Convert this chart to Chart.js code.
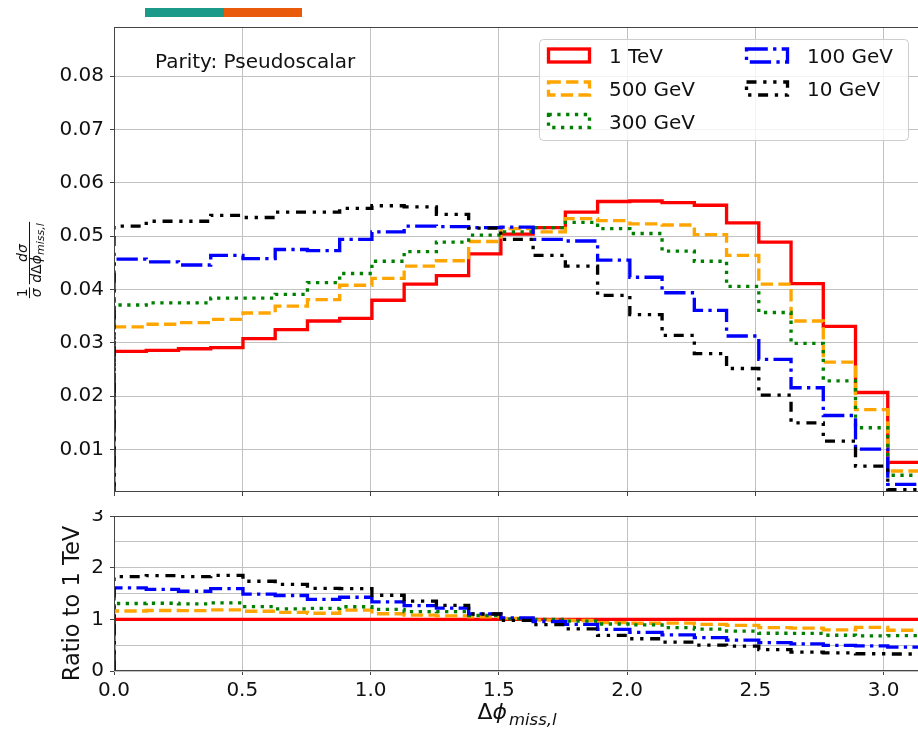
<!DOCTYPE html>
<html>
<head>
<meta charset="utf-8">
<script src="https://cdn.jsdelivr.net/npm/chart.js@4.4.1/dist/chart.umd.min.js"></script>
<style>
html, body { margin: 0; padding: 0; overflow: hidden; background: #fff; }
#wrap { position: relative; width: 918px; height: 734px; overflow: hidden; }
#wrap canvas { position: absolute; left: 0; }
#topChart { top: 0; }
#ratioChart { top: 510px; }
.band { position: absolute; top: 8px; height: 9px; z-index: 2; }
</style>
</head>
<body>
<div id="wrap">
    <canvas id="topChart" width="922" height="497"></canvas>
    <canvas id="ratioChart" width="922" height="224"></canvas>
    <div class="band" style="left:145px;width:79px;background:#1b9a8a"></div>
    <div class="band" style="left:224px;width:78px;background:#ea5a0b"></div>
</div>
<script>
// 25 equal bins of delta phi between 0 and pi
var N_BINS = 25;
var X_MAX = Math.PI;
var X_TICKS = [0, 0.5, 1.0, 1.5, 2.0, 2.5, 3.0];
var Y_TICKS = [0.01, 0.02, 0.03, 0.04, 0.05, 0.06, 0.07, 0.08];
var RATIO_TICKS = [0, 0.5, 1, 1.5, 2, 2.5, 3];

var LABELS = ['1 TeV', '500 GeV', '300 GeV', '100 GeV', '10 GeV'];

// normalised bin contents, one value per bin
var dist1TeV = [0.0284, 0.0286, 0.0289, 0.0291, 0.0308, 0.0325, 0.0341, 0.0346, 0.0380, 0.0410,
    0.0426, 0.0467, 0.0504, 0.0516, 0.0545, 0.0565, 0.0566, 0.0563, 0.0558, 0.0525,
    0.0489, 0.0411, 0.0331, 0.0207, 0.0076];
var dist500GeV = [0.0330, 0.0335, 0.0338, 0.0344, 0.0356, 0.0369, 0.0381, 0.0408, 0.0421, 0.0444,
    0.0454, 0.0490, 0.0514, 0.0508, 0.0533, 0.0529, 0.0523, 0.0521, 0.0503, 0.0464,
    0.0410, 0.0341, 0.0264, 0.0175, 0.0060];
var dist300GeV = [0.0371, 0.0375, 0.0375, 0.0384, 0.0384, 0.0391, 0.0413, 0.0430, 0.0453, 0.0471,
    0.0489, 0.0502, 0.0508, 0.0516, 0.0526, 0.0514, 0.0505, 0.0472, 0.0453, 0.0406,
    0.0357, 0.0299, 0.0229, 0.0141, 0.0052];
var dist100GeV = [0.0457, 0.0452, 0.0446, 0.0464, 0.0458, 0.0475, 0.0473, 0.0494, 0.0508, 0.0519,
    0.0518, 0.0516, 0.0517, 0.0494, 0.0491, 0.0455, 0.0423, 0.0394, 0.0361, 0.0313,
    0.0269, 0.0216, 0.0164, 0.0101, 0.0035];
var dist10GeV = [0.0519, 0.0528, 0.0528, 0.0539, 0.0535, 0.0545, 0.0545, 0.0552, 0.0557, 0.0555,
    0.0541, 0.0515, 0.0494, 0.0464, 0.0444, 0.0389, 0.0353, 0.0314, 0.0280, 0.0252,
    0.0202, 0.0150, 0.0116, 0.0069, 0.0025];

var SERIES = [dist1TeV, dist500GeV, dist300GeV, dist100GeV, dist10GeV];

// line styles (matplotlib-like dash patterns at ~2.5pt)
var STYLES = [
    { color: '#ff0000', dash: [] },
    { color: '#ffa500', dash: [12.3, 5.3] },
    { color: '#008000', dash: [3.3, 5.5] },
    { color: '#0000ff', dash: [21.3, 5.3, 3.3, 5.3] },
    { color: '#000000', dash: [10, 6.7, 3.3, 6.7, 3.3, 6.7] }
];
var LINE_W = 3.33;
var GRID = '#c2c2c2';
var AXIS = '#444';
var FONT = 'DejaVu Sans';

Chart.defaults.font.family = FONT;
Chart.defaults.color = '#111';

var binWidth = X_MAX / N_BINS;

// histogram outline: up from zero at the left edge, across each bin, down at the right edge
function stepPoints(values) {
    var pts = [{ x: 0, y: 0 }];
    values.forEach(function (v, k) {
        pts.push({ x: k * binWidth, y: v });
    });
    pts.push({ x: X_MAX, y: values[values.length - 1] });
    pts.push({ x: X_MAX, y: 0 });
    return pts;
}

function makeDatasets(seriesList) {
    return seriesList.map(function (vals, i) {
        return {
            label: LABELS[i],
            data: stepPoints(vals),
            borderColor: STYLES[i].color,
            borderDash: STYLES[i].dash,
            borderWidth: LINE_W,
            // horizontal at the previous value first, then vertical
            stepped: 'before',
            pointRadius: 0,
            fill: false,
            clip: 0,
            order: seriesList.length - i
        };
    });
}

var ratios = SERIES.map(function (vals) {
    return vals.map(function (v, k) { return v / dist1TeV[k]; });
});

function xScale(showLabels) {
    return {
        type: 'linear',
        min: 0,
        max: X_MAX,
        afterBuildTicks: function (s) { s.ticks = X_TICKS.map(function (v) { return { value: v }; }); },
        afterFit: function (s) {
            s.height = showLabels ? 63 : 5;
            s.paddingLeft = 0;
            s.paddingRight = 0;
        },
        grid: { color: GRID, lineWidth: 1, tickLength: 4, tickColor: AXIS },
        border: { display: false },
        ticks: {
            display: showLabels,
            padding: 4,
            maxRotation: 0,
            autoSkip: false,
            font: { size: 20 },
            callback: function (v) { return v.toFixed(1); }
        }
    };
}

function yScale(min, max, ticks, fmt, tickColor) {
    return {
        type: 'linear',
        min: min,
        max: max,
        afterBuildTicks: function (s) { s.ticks = ticks.map(function (v) { return { value: v }; }); },
        afterFit: function (s) {
            s.width = 114;
            s.paddingTop = 0;
            s.paddingBottom = 0;
        },
        grid: { color: GRID, lineWidth: 1, tickLength: 4, tickColor: tickColor || AXIS },
        border: { display: false },
        ticks: { padding: 6, autoSkip: false, font: { size: 20 }, callback: fmt }
    };
}

// axes frame drawn over the data, like matplotlib spines
var framePlugin = {
    id: 'frame',
    afterDatasetsDraw: function (chart) {
        var a = chart.chartArea;
        var c = chart.ctx;
        c.save();
        c.strokeStyle = AXIS;
        c.lineWidth = 1;
        c.strokeRect(Math.round(a.left) + 0.5, Math.round(a.top) + 0.5,
            Math.round(a.right - a.left), Math.round(a.bottom - a.top) - 1);
        c.restore();
    }
};

function roundedBox(c, x, y, w, h, r) {
    c.beginPath();
    c.moveTo(x + r, y);
    c.lineTo(x + w - r, y);
    c.quadraticCurveTo(x + w, y, x + w, y + r);
    c.lineTo(x + w, y + h - r);
    c.quadraticCurveTo(x + w, y + h, x + w - r, y + h);
    c.lineTo(x + r, y + h);
    c.quadraticCurveTo(x, y + h, x, y + h - r);
    c.lineTo(x, y + r);
    c.quadraticCurveTo(x, y, x + r, y);
    c.closePath();
}

// two-column legend with outlined boxes, filled down the first column first
function drawLegend(chart) {
    var c = chart.ctx;
    var a = chart.chartArea;
    var bx = a.right - 381, by = a.top + 12, bw = 369, bh = 101;
    c.save();
    roundedBox(c, bx + 0.5, by + 0.5, bw, bh, 4);
    c.fillStyle = 'rgba(255,255,255,0.8)';
    c.fill();
    c.strokeStyle = 'rgba(200,200,200,0.9)';
    c.lineWidth = 1;
    c.stroke();

    var cols = [{ hx: bx + 9.5, tx: bx + 70 }, { hx: bx + 207.5, tx: bx + 268 }];
    var rowY = [by + 16.5, by + 49.5, by + 82];
    chart.data.datasets.forEach(function (ds, i) {
        var col = cols[i < 3 ? 0 : 1];
        var cy = rowY[i < 3 ? i : i - 3];
        c.setLineDash(ds.borderDash);
        c.strokeStyle = ds.borderColor;
        c.lineWidth = LINE_W;
        c.strokeRect(col.hx, cy - 6.5, 41, 13);
        c.setLineDash([]);
        c.fillStyle = '#111';
        c.font = '20px "' + FONT + '"';
        c.textBaseline = 'alphabetic';
        c.fillText(ds.label, col.tx, cy + 7.5);
    });
    c.restore();
}

// rotated 1/sigma dsigma/dDeltaphi label
function drawDensityTitle(c, cx, cy) {
    var big = 14, small = 11;
    var it = function (s) { return 'italic ' + s + 'px "' + FONT + '"'; };
    var up = function (s) { return s + 'px "' + FONT + '"'; };
    c.save();
    c.translate(cx, cy);
    c.rotate(-Math.PI / 2);
    c.fillStyle = '#111';
    c.textBaseline = 'alphabetic';

    c.font = up(big);
    var w1 = c.measureText('1').width;
    var wDelta = c.measureText('\u0394').width;
    c.font = it(big);
    var wSig = c.measureText('\u03c3').width;
    var wD = c.measureText('d').width;
    var wPhi = c.measureText('\u03d5').width;
    c.font = it(small);
    var wSub = c.measureText('miss,l').width;

    var fracA = Math.max(w1, wSig) + 2;
    var numB = wD + wSig;
    var fracB = wD + wDelta + wPhi + wSub + 3;
    var gap = 3;
    var x0 = -(fracA + gap + fracB) / 2;
    var numY = -2.5, denY = 11;

    c.font = up(big);
    c.fillText('1', x0 + (fracA - w1) / 2, numY);
    c.font = it(big);
    c.fillText('\u03c3', x0 + (fracA - wSig) / 2, denY);
    c.fillRect(x0, -0.5, fracA, 1);

    x0 += fracA + gap;
    c.fillRect(x0, -0.5, fracB, 1);
    c.fillText('d\u03c3', x0 + (fracB - numB) / 2, numY);
    var dx = x0 + 1.5;
    c.fillText('d', dx, denY); dx += wD;
    c.font = up(big);
    c.fillText('\u0394', dx, denY); dx += wDelta;
    c.font = it(big);
    c.fillText('\u03d5', dx, denY); dx += wPhi;
    c.font = it(small);
    c.fillText('miss,l', dx, denY + 3);
    c.restore();
}

var topTextPlugin = {
    id: 'topText',
    afterDraw: function (chart) {
        var c = chart.ctx;
        var a = chart.chartArea;
        c.save();
        c.fillStyle = '#111';
        c.font = '20px "' + FONT + '"';
        c.textBaseline = 'alphabetic';
        c.fillText('Parity: Pseudoscalar', a.left + 41, a.top + 41);
        c.restore();
        drawLegend(chart);
        drawDensityTitle(c, 29.5, 260);
    }
};

var ratioTextPlugin = {
    id: 'ratioText',
    afterDraw: function (chart) {
        var c = chart.ctx;
        var a = chart.chartArea;
        c.save();
        c.fillStyle = '#111';
        c.textBaseline = 'alphabetic';

        // y title
        c.save();
        c.translate(79, (a.top + a.bottom) / 2 + 10);
        c.rotate(-Math.PI / 2);
        c.textAlign = 'center';
        c.font = '22.5px "' + FONT + '"';
        c.fillText('Ratio to 1 TeV', 0, 0);
        c.restore();

        // x title: Delta phi with subscript
        var big = '22px "' + FONT + '"';
        var bigIt = 'italic 22px "' + FONT + '"';
        var sub = 'italic 16.5px "' + FONT + '"';
        c.font = big;
        var wD = c.measureText('\u0394').width;
        c.font = bigIt;
        var wP = c.measureText('\u03d5').width;
        c.font = sub;
        var wS = c.measureText('miss,l').width;
        var total = wD + wP + 2 + wS;
        var x = (a.left + a.right) / 2 - total / 2;
        var base = a.bottom + 48;
        c.font = big;
        c.fillText('\u0394', x, base); x += wD;
        c.font = bigIt;
        c.fillText('\u03d5', x, base); x += wP + 2;
        c.font = sub;
        c.fillText('miss,l', x, base + 6);
        c.restore();
    }
};

var topChart = new Chart(document.getElementById('topChart'), {
    type: 'line',
    data: { datasets: makeDatasets(SERIES) },
    options: {
        responsive: false,
        animation: false,
        devicePixelRatio: 1,
        layout: { padding: { top: 27, right: 2, bottom: 0, left: 0 } },
        plugins: { legend: { display: false }, tooltip: { enabled: false } },
        scales: {
            x: xScale(false),
            y: yScale(0.00206, 0.0892, Y_TICKS, function (v) { return v.toFixed(2); })
        }
    },
    plugins: [framePlugin, topTextPlugin]
});

var ratioChart = new Chart(document.getElementById('ratioChart'), {
    type: 'line',
    data: { datasets: makeDatasets(ratios) },
    options: {
        responsive: false,
        animation: false,
        devicePixelRatio: 1,
        layout: { padding: { top: 6, right: 2, bottom: 0, left: 0 } },
        plugins: { legend: { display: false }, tooltip: { enabled: false } },
        scales: {
            x: xScale(true),
            y: yScale(0, 3, RATIO_TICKS,
                function (v) { return Number.isInteger(v) ? String(v) : ''; },
                function (ctx) { return Number.isInteger(ctx.tick.value) ? AXIS : 'rgba(0,0,0,0)'; })
        }
    },
    plugins: [framePlugin, ratioTextPlugin]
});
</script>
</body>
</html>
